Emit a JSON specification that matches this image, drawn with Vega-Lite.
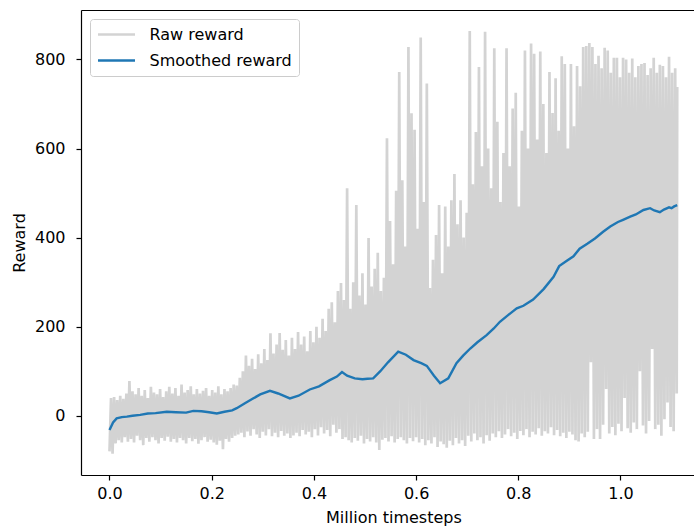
{
"$schema": "https://vega.github.io/schema/vega-lite/v6.json",
"width": 613,
"height": 465,
"autosize": {"type": "none"},
"padding": {"left": 81, "top": 10, "right": 0, "bottom": 51},
"config": {
  "font": "DejaVu Sans",
  "view": {"stroke": null},
  "axis": {"domainColor": "#000", "domainWidth": 1.2, "tickColor": "#000", "tickWidth": 1.2, "tickSize": 5, "labelFontSize": 16, "labelColor": "#000", "titleFontSize": 16, "titleFontWeight": "normal", "titleColor": "#000", "grid": false, "labelFlush": false, "labelOverlap": false}
},
"datasets": {
"raw": [
{"t":0.000,"r":-80},{"t":0.003,"r":40},{"t":0.006,"r":-85},{"t":0.009,"r":42},{"t":0.012,"r":-62},{"t":0.015,"r":35},{"t":0.018,"r":-55},{"t":0.021,"r":45},{"t":0.024,"r":-60},{"t":0.027,"r":38},{"t":0.030,"r":-48},{"t":0.033,"r":50},{"t":0.036,"r":-58},{"t":0.039,"r":78},{"t":0.042,"r":-52},{"t":0.045,"r":55},{"t":0.048,"r":-60},{"t":0.051,"r":48},{"t":0.054,"r":-45},{"t":0.057,"r":62},{"t":0.060,"r":-55},{"t":0.063,"r":45},{"t":0.066,"r":-66},{"t":0.069,"r":58},{"t":0.072,"r":-50},{"t":0.075,"r":40},{"t":0.078,"r":-58},{"t":0.081,"r":65},{"t":0.084,"r":-48},{"t":0.087,"r":52},{"t":0.090,"r":-55},{"t":0.093,"r":48},{"t":0.096,"r":-62},{"t":0.099,"r":60},{"t":0.102,"r":-50},{"t":0.105,"r":42},{"t":0.108,"r":-56},{"t":0.111,"r":55},{"t":0.114,"r":-47},{"t":0.117,"r":65},{"t":0.120,"r":-58},{"t":0.123,"r":50},{"t":0.126,"r":-52},{"t":0.129,"r":62},{"t":0.132,"r":-60},{"t":0.135,"r":45},{"t":0.138,"r":-50},{"t":0.141,"r":70},{"t":0.144,"r":-55},{"t":0.147,"r":52},{"t":0.150,"r":-62},{"t":0.153,"r":58},{"t":0.156,"r":-50},{"t":0.159,"r":66},{"t":0.162,"r":-57},{"t":0.165,"r":48},{"t":0.168,"r":-52},{"t":0.171,"r":60},{"t":0.174,"r":-63},{"t":0.177,"r":50},{"t":0.180,"r":-55},{"t":0.183,"r":56},{"t":0.186,"r":-48},{"t":0.189,"r":62},{"t":0.192,"r":-58},{"t":0.195,"r":45},{"t":0.198,"r":-54},{"t":0.201,"r":58},{"t":0.204,"r":-60},{"t":0.207,"r":52},{"t":0.210,"r":-65},{"t":0.213,"r":66},{"t":0.216,"r":-56},{"t":0.219,"r":48},{"t":0.222,"r":-75},{"t":0.225,"r":60},{"t":0.228,"r":-52},{"t":0.231,"r":55},{"t":0.234,"r":-58},{"t":0.237,"r":62},{"t":0.240,"r":-50},{"t":0.243,"r":70},{"t":0.246,"r":-45},{"t":0.249,"r":68},
{"t":0.252,"r":-42},{"t":0.255,"r":85},{"t":0.258,"r":-38},{"t":0.261,"r":100},{"t":0.264,"r":-48},{"t":0.267,"r":135},{"t":0.270,"r":-35},{"t":0.273,"r":112},{"t":0.276,"r":-45},{"t":0.279,"r":128},{"t":0.282,"r":-30},{"t":0.285,"r":105},{"t":0.288,"r":-42},{"t":0.291,"r":138},{"t":0.294,"r":-50},{"t":0.297,"r":118},{"t":0.300,"r":-36},{"t":0.303,"r":150},{"t":0.306,"r":-44},{"t":0.309,"r":125},{"t":0.312,"r":-30},{"t":0.315,"r":185},{"t":0.318,"r":-46},{"t":0.321,"r":140},{"t":0.324,"r":-38},{"t":0.327,"r":160},{"t":0.330,"r":-48},{"t":0.333,"r":186},{"t":0.336,"r":-34},{"t":0.339,"r":148},{"t":0.342,"r":-45},{"t":0.345,"r":170},{"t":0.348,"r":-40},{"t":0.351,"r":135},{"t":0.354,"r":-50},{"t":0.357,"r":175},{"t":0.360,"r":-44},{"t":0.363,"r":150},{"t":0.366,"r":-38},{"t":0.369,"r":188},{"t":0.372,"r":-46},{"t":0.375,"r":160},{"t":0.378,"r":-32},{"t":0.381,"r":178},{"t":0.384,"r":-42},{"t":0.387,"r":145},{"t":0.390,"r":-36},{"t":0.393,"r":190},{"t":0.396,"r":-48},{"t":0.399,"r":165},{"t":0.402,"r":-30},{"t":0.405,"r":200},{"t":0.408,"r":-44},{"t":0.411,"r":175},{"t":0.414,"r":-26},{"t":0.417,"r":218},{"t":0.420,"r":-40},{"t":0.423,"r":190},{"t":0.426,"r":-32},{"t":0.429,"r":240},{"t":0.432,"r":-46},{"t":0.435,"r":255},{"t":0.438,"r":-20},{"t":0.441,"r":210},{"t":0.444,"r":-38},{"t":0.447,"r":280},{"t":0.450,"r":-30},{"t":0.453,"r":298},
{"t":0.456,"r":-52},{"t":0.459,"r":260},{"t":0.462,"r":-48},{"t":0.465,"r":511},{"t":0.468,"r":-55},{"t":0.471,"r":240},{"t":0.474,"r":-60},{"t":0.477,"r":300},{"t":0.480,"r":-50},{"t":0.483,"r":473},{"t":0.486,"r":-56},{"t":0.489,"r":270},{"t":0.492,"r":-45},{"t":0.495,"r":320},{"t":0.498,"r":-62},{"t":0.501,"r":250},{"t":0.504,"r":-52},{"t":0.507,"r":399},{"t":0.510,"r":-58},{"t":0.513,"r":290},{"t":0.516,"r":-48},{"t":0.519,"r":330},{"t":0.522,"r":-60},{"t":0.525,"r":366},{"t":0.528,"r":-77},{"t":0.531,"r":280},{"t":0.534,"r":-54},{"t":0.537,"r":310},{"t":0.540,"r":-50},{"t":0.543,"r":623},{"t":0.546,"r":-58},{"t":0.549,"r":437},{"t":0.552,"r":-46},{"t":0.555,"r":340},{"t":0.558,"r":-60},{"t":0.561,"r":505},{"t":0.564,"r":-52},{"t":0.567,"r":772},{"t":0.570,"r":-48},{"t":0.573,"r":529},{"t":0.576,"r":-55},{"t":0.579,"r":380},{"t":0.582,"r":-62},{"t":0.585,"r":828},{"t":0.588,"r":-50},{"t":0.591,"r":679},{"t":0.594,"r":-57},{"t":0.597,"r":642},{"t":0.600,"r":-48},
{"t":0.603,"r":420},{"t":0.606,"r":-60},{"t":0.609,"r":849},{"t":0.612,"r":-52},{"t":0.615,"r":480},{"t":0.618,"r":-66},{"t":0.621,"r":746},{"t":0.624,"r":-55},{"t":0.627,"r":287},{"t":0.630,"r":-62},{"t":0.633,"r":350},{"t":0.636,"r":-48},{"t":0.639,"r":406},{"t":0.642,"r":-70},{"t":0.645,"r":473},{"t":0.648,"r":-58},{"t":0.651,"r":320},{"t":0.654,"r":-64},{"t":0.657,"r":470},{"t":0.660,"r":-72},{"t":0.663,"r":380},{"t":0.666,"r":-56},{"t":0.669,"r":484},{"t":0.672,"r":-66},{"t":0.675,"r":543},{"t":0.678,"r":-50},{"t":0.681,"r":430},{"t":0.684,"r":-62},{"t":0.687,"r":484},{"t":0.690,"r":-55},{"t":0.693,"r":400},{"t":0.696,"r":-68},{"t":0.699,"r":456},{"t":0.702,"r":-45},{"t":0.705,"r":864},{"t":0.708,"r":-58},{"t":0.711,"r":520},{"t":0.714,"r":-40},{"t":0.717,"r":637},{"t":0.720,"r":-55},{"t":0.723,"r":783},{"t":0.726,"r":-48},{"t":0.729,"r":560},{"t":0.732,"r":-62},{"t":0.735,"r":862},{"t":0.738,"r":-44},{"t":0.741,"r":600},{"t":0.744,"r":-56},{"t":0.747,"r":511},{"t":0.750,"r":-40},{"t":0.753,"r":825},
{"t":0.756,"r":-48},{"t":0.759,"r":660},{"t":0.762,"r":-35},{"t":0.765,"r":480},{"t":0.768,"r":-50},{"t":0.771,"r":590},{"t":0.774,"r":-42},{"t":0.777,"r":825},{"t":0.780,"r":-30},{"t":0.783,"r":560},{"t":0.786,"r":-46},{"t":0.789,"r":690},{"t":0.792,"r":-38},{"t":0.795,"r":725},{"t":0.798,"r":-52},{"t":0.801,"r":470},{"t":0.804,"r":-34},{"t":0.807,"r":640},{"t":0.810,"r":-44},{"t":0.813,"r":820},{"t":0.816,"r":-30},{"t":0.819,"r":600},{"t":0.822,"r":-48},{"t":0.825,"r":836},{"t":0.828,"r":-36},{"t":0.831,"r":813},{"t":0.834,"r":-42},{"t":0.837,"r":620},{"t":0.840,"r":-28},{"t":0.843,"r":818},{"t":0.846,"r":-45},{"t":0.849,"r":700},{"t":0.852,"r":-35},{"t":0.855,"r":590},{"t":0.858,"r":-40},{"t":0.861,"r":772},{"t":0.864,"r":-26},{"t":0.867,"r":680},{"t":0.870,"r":-44},{"t":0.873,"r":758},{"t":0.876,"r":-32},{"t":0.879,"r":640},{"t":0.882,"r":-46},{"t":0.885,"r":807},{"t":0.888,"r":-38},{"t":0.891,"r":790},{"t":0.894,"r":-50},{"t":0.897,"r":600},{"t":0.900,"r":-36},{"t":0.903,"r":790},{"t":0.906,"r":-42},{"t":0.909,"r":650},{"t":0.912,"r":-55},{"t":0.915,"r":785},{"t":0.918,"r":-58},{"t":0.921,"r":740},
{"t":0.924,"r":-40},{"t":0.927,"r":828},{"t":0.930,"r":-48},{"t":0.933,"r":830},{"t":0.936,"r":-36},{"t":0.939,"r":837},{"t":0.942,"r":120},{"t":0.945,"r":828},{"t":0.948,"r":-52},{"t":0.951,"r":790},{"t":0.954,"r":-30},{"t":0.957,"r":808},{"t":0.960,"r":-52},{"t":0.963,"r":780},{"t":0.966,"r":-20},{"t":0.969,"r":826},{"t":0.972,"r":60},{"t":0.975,"r":820},{"t":0.978,"r":-40},{"t":0.981,"r":770},{"t":0.984,"r":-25},{"t":0.987,"r":804},{"t":0.990,"r":-44},{"t":0.993,"r":804},{"t":0.996,"r":-18},{"t":0.999,"r":760},{"t":1.002,"r":-35},{"t":1.005,"r":804},{"t":1.008,"r":40},{"t":1.011,"r":800},{"t":1.014,"r":-28},{"t":1.017,"r":770},{"t":1.020,"r":-38},{"t":1.023,"r":802},{"t":1.026,"r":-15},{"t":1.029,"r":760},{"t":1.032,"r":-30},{"t":1.035,"r":785},{"t":1.038,"r":100},{"t":1.041,"r":790},{"t":1.044,"r":-22},{"t":1.047,"r":792},{"t":1.050,"r":-40},{"t":1.053,"r":765},{"t":1.056,"r":-12},{"t":1.059,"r":780},{"t":1.062,"r":150},{"t":1.065,"r":804},{"t":1.068,"r":-30},{"t":1.071,"r":770},{"t":1.074,"r":-20},{"t":1.077,"r":788},{"t":1.080,"r":-45},{"t":1.083,"r":785},{"t":1.086,"r":-8},{"t":1.089,"r":760},{"t":1.092,"r":30},{"t":1.095,"r":806},{"t":1.098,"r":-25},{"t":1.101,"r":770},{"t":1.104,"r":-35},{"t":1.107,"r":780},{"t":1.110,"r":50},{"t":1.111,"r":738}
],
"smooth": [
{"t":0,"r":-32},{"t":0.007,"r":-15},{"t":0.014,"r":-6},{"t":0.024,"r":-3},{"t":0.034,"r":-2},{"t":0.045,"r":0},{"t":0.06,"r":2},{"t":0.075,"r":5},{"t":0.09,"r":6},{"t":0.112,"r":9},{"t":0.13,"r":8},{"t":0.15,"r":7},{"t":0.164,"r":11},{"t":0.18,"r":10},{"t":0.195,"r":8},{"t":0.21,"r":5},{"t":0.225,"r":9},{"t":0.24,"r":12},{"t":0.249,"r":17},{"t":0.265,"r":28},{"t":0.28,"r":38},{"t":0.295,"r":48},{"t":0.314,"r":56},{"t":0.33,"r":50},{"t":0.353,"r":39},{"t":0.37,"r":45},{"t":0.392,"r":59},{"t":0.41,"r":66},{"t":0.431,"r":80},{"t":0.445,"r":88},{"t":0.455,"r":98},{"t":0.465,"r":90},{"t":0.48,"r":84},{"t":0.495,"r":82},{"t":0.505,"r":83},{"t":0.516,"r":84},{"t":0.53,"r":100},{"t":0.545,"r":120},{"t":0.565,"r":144},{"t":0.58,"r":137},{"t":0.595,"r":125},{"t":0.61,"r":118},{"t":0.621,"r":112},{"t":0.635,"r":90},{"t":0.647,"r":73},{"t":0.663,"r":84},{"t":0.679,"r":118},{"t":0.692,"r":135},{"t":0.706,"r":151},{"t":0.72,"r":165},{"t":0.738,"r":181},{"t":0.752,"r":196},{"t":0.764,"r":211},{"t":0.78,"r":226},{"t":0.797,"r":241},{"t":0.81,"r":247},{"t":0.829,"r":261},{"t":0.85,"r":285},{"t":0.869,"r":312},{"t":0.88,"r":336},{"t":0.895,"r":348},{"t":0.908,"r":358},{"t":0.92,"r":375},{"t":0.935,"r":386},{"t":0.95,"r":398},{"t":0.966,"r":413},{"t":0.98,"r":425},{"t":0.995,"r":435},{"t":1.005,"r":440},{"t":1.019,"r":447},{"t":1.03,"r":452},{"t":1.045,"r":462},{"t":1.058,"r":466},{"t":1.066,"r":461},{"t":1.077,"r":457},{"t":1.085,"r":463},{"t":1.095,"r":468},{"t":1.1,"r":466},{"t":1.105,"r":470},{"t":1.111,"r":473}
]
},
"layer": [
  {
    "data": {"name": "raw"},
    "mark": {"type": "line", "strokeWidth": 2.7},
    "encoding": {
      "x": {"field": "t", "type": "quantitative", "scale": {"domain": [-0.05577, 1.14384], "nice": false, "zero": false},
        "axis": {"orient": "bottom", "values": [0, 0.2, 0.4, 0.6, 0.8, 1.0], "format": ".1f", "labelBaseline": "alphabetic", "labelPadding": 18.4, "title": "Million timesteps", "titleX": 312.4, "titleY": 47, "titleBaseline": "alphabetic", "titleAlign": "center", "titleAnchor": null}},
      "y": {"field": "r", "type": "quantitative", "scale": {"domain": [-133, 911], "nice": false, "zero": false},
        "axis": {"values": [0, 200, 400, 600, 800], "format": "d", "labelPadding": 11, "title": "Reward", "titleX": -56.6, "titleY": 232.5, "titleAngle": -90, "titleBaseline": "alphabetic", "titleAlign": "center", "titleAnchor": null}},
      "color": {"datum": "Raw reward", "type": "nominal",
        "scale": {"domain": ["Raw reward", "Smoothed reward"], "range": ["#d3d3d3", "#1f77b4"]},
        "legend": {"title": null, "orient": "top-left", "offset": 9, "symbolType": "stroke", "symbolSize": 1369, "symbolStrokeWidth": 2.4, "labelFontSize": 16, "labelColor": "#000", "labelOffset": 13, "padding": 6.5, "rowPadding": 8, "strokeColor": "#cccccc", "cornerRadius": 3, "fillColor": "rgba(255,255,255,0.8)", "clipHeight": 18}}
    }
  },
  {
    "data": {"name": "smooth"},
    "mark": {"type": "line", "strokeWidth": 2.4},
    "encoding": {
      "x": {"field": "t", "type": "quantitative", "axis": {"orient": "top", "labels": false, "ticks": false, "title": null, "domain": true}},
      "y": {"field": "r", "type": "quantitative"},
      "color": {"datum": "Smoothed reward", "type": "nominal"}
    }
  }
],
"resolve": {"axis": {"x": "independent"}}
}
